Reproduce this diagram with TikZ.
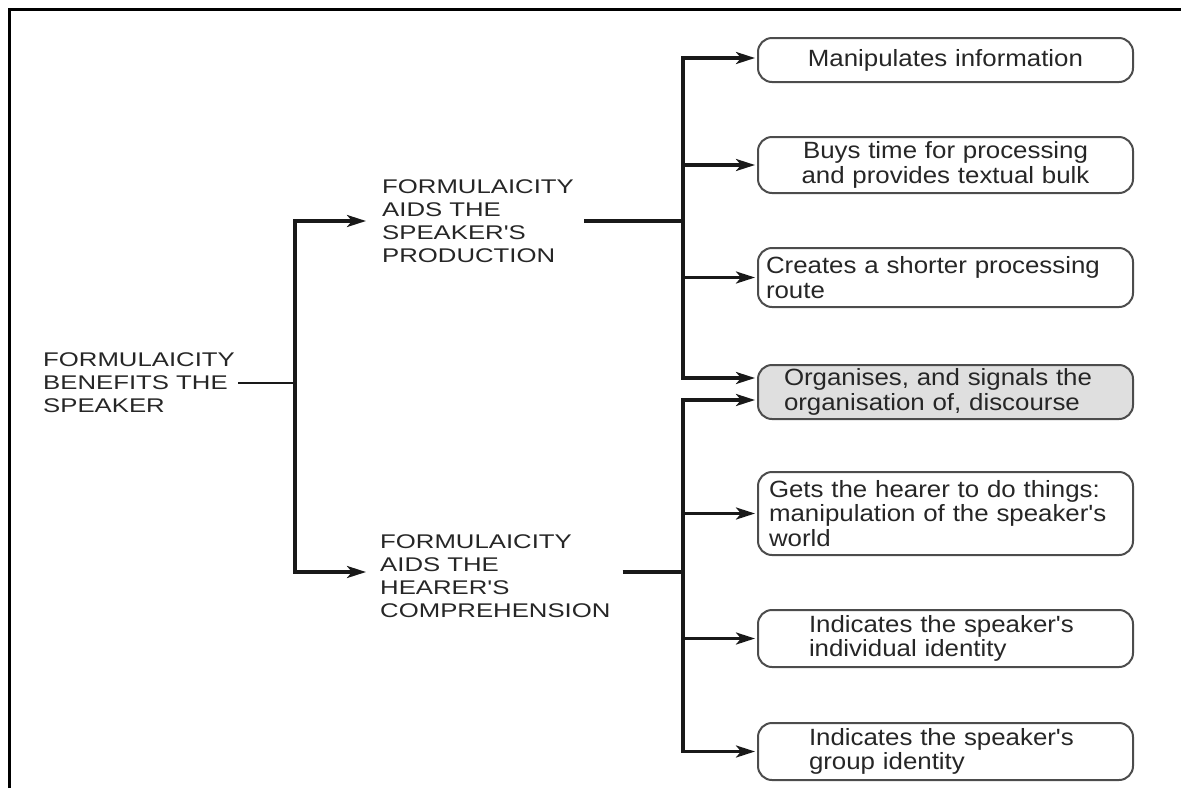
\documentclass[tikz,border=0pt]{standalone}
\usepackage{fontspec}
\setmainfont{Liberation Sans}
\newfontfamily\labfont[FakeStretch=1.3]{Liberation Sans}
\newfontfamily\boxfont[FakeStretch=1.1]{Liberation Sans}
\usetikzlibrary{arrows.meta}
\begin{document}
\begin{tikzpicture}[x=1pt,y=-1pt,
  conn/.style={line width=3.2pt, color=black!90},
  arr/.style={conn,shorten >=2pt,-{Stealth[length=19pt,width=12pt,inset=5pt]}},
  lab/.style={font=\labfont\fontsize{19.8}{23}\selectfont, text=black!85, align=left, inner sep=0pt, anchor=west},
  bx/.style={draw=black!70, line width=2pt, rounded corners=14pt, anchor=west, text=black!85,
    inner ysep=0pt, font=\boxfont\fontsize{23.5}{24.5}\selectfont}]
\useasboundingbox (0,0) rectangle (1181,788);
% frame
\draw[line width=3pt] (9,788) -- (9,9) -- (1181,9);
% labels
\node[lab] (ben) at (43,383) {FORMULAICITY\\BENEFITS THE\\SPEAKER};
\node[lab] (up) at (382,221) {FORMULAICITY\\AIDS THE\\SPEAKER'S\\PRODUCTION};
\node[lab] (dn) at (380,576) {FORMULAICITY\\AIDS THE\\HEARER'S\\COMPREHENSION};
% boxes
\node[bx, align=center, inner xsep=8pt, text width=359pt, minimum height=44pt] (b1) at (757,60) {Manipulates information};
\node[bx, align=center, inner xsep=8pt, text width=359pt, minimum height=56pt] (b2) at (757,165) {Buys time for processing\\and provides textual bulk};
\node[bx, align=left, inner xsep=8pt, text width=359pt, minimum height=59pt] (b3) at (757,277.5) {Creates a shorter processing\\route};
\node[bx, fill=gray!25, align=left, inner xsep=26pt, text width=323pt, minimum height=54pt] (b4) at (757,392) {Organises, and signals the\\organisation of, discourse};
\node[bx, align=left, inner xsep=11pt, text width=353pt, minimum height=83pt] (b5) at (757,513.5) {Gets the hearer to do things:\\manipulation of the speaker's\\world};
\node[bx, align=left, inner xsep=51pt, text width=273pt, minimum height=57pt] (b6) at (757,638.5) {Indicates the speaker's\\individual identity};
\node[bx, align=left, inner xsep=51pt, text width=273pt, minimum height=57pt] (b7) at (757,751.5) {Indicates the speaker's\\group identity};
% junctions
\coordinate (jL) at (295,383);
\coordinate (jLt) at (295,221);
\coordinate (jLb) at (295,572);
\coordinate (jU) at (683,221);
\coordinate (jD) at (683,572);
% left tree
\draw[conn, line width=2pt] ([xshift=3pt]ben.east) -- (jL);
\draw[arr] (jL) -- (jLt) -- ([xshift=-14pt]up.west |- jLt);
\draw[arr] (jL) -- (jLb) -- ([xshift=-12pt]dn.west |- jLb);
% upper tree
\draw[conn, shorten <=10pt] (up.east |- jU) -- (jU);
\draw[arr] (jU) |- ([yshift=2pt]b1.west);
\draw[arr] (jU) |- (b2.west);
\draw[arr] (jU) |- (b3.west);
\draw[arr] (jU) |- ([yshift=14pt]b4.west);
% lower tree
\draw[conn] ([xshift=12pt]dn.east |- jD) -- (jD);
\draw[arr] (jD) |- ([yshift=-8pt]b4.west);
\draw[arr] (jD) |- (b5.west);
\draw[arr] (jD) |- (b6.west);
\draw[arr] (jD) |- (b7.west);
\end{tikzpicture}
\end{document}
